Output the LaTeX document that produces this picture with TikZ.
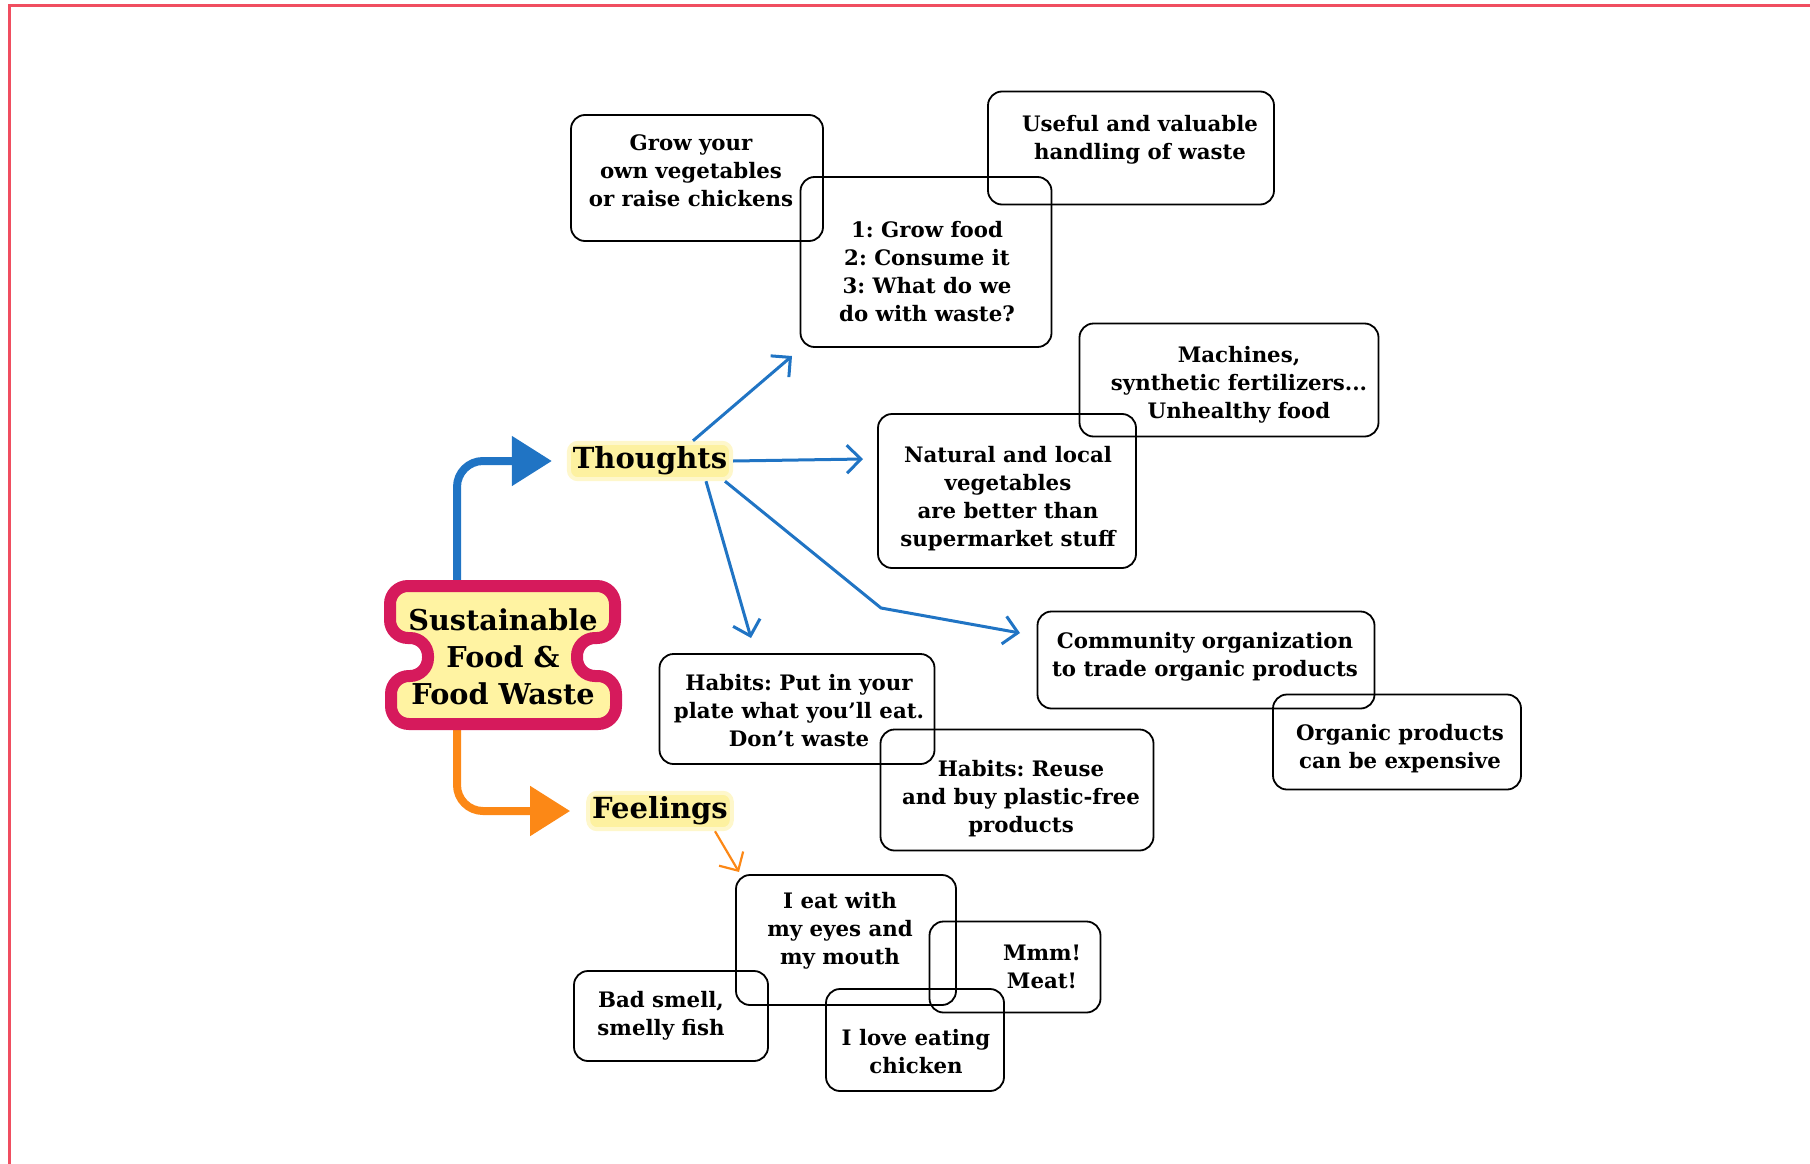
\documentclass[tikz,border=0pt]{standalone}
\usepackage{fontspec}
\setmainfont{DejaVu Serif}
\usetikzlibrary{arrows.meta,backgrounds}
\frenchspacing

\definecolor{framered}{RGB}{240,78,96}
\definecolor{mapblue}{RGB}{32,116,196}
\definecolor{maporange}{RGB}{252,136,22}
\definecolor{cloudpink}{RGB}{214,26,92}
\definecolor{cloudyellow}{RGB}{255,243,162}
\definecolor{glowyellow}{RGB}{253,241,160}

\tikzset{
  note/.style={draw, rounded corners=14pt, line width=1.8pt, inner sep=0pt},
  notetext/.style={align=center, font=\fontsize{21.3}{28}\selectfont\bfseries, inner sep=0pt},
  branch/.style={font=\fontsize{29}{34}\selectfont\bfseries, fill=glowyellow,
    draw=glowyellow!55, line width=4pt, rounded corners=9pt, inner sep=4pt},
  thinarrow/.style={mapblue, line width=3pt, -{Straight Barb[length=14pt,width=28pt]}},
  bigarrow/.style={line width=8pt, -{Triangle[length=40pt,width=48pt]}},
}

\begin{document}
\begin{tikzpicture}[x=1pt, y=-1pt]
  \useasboundingbox (0,0) rectangle (1810,1164);
  % frame
  \draw[framered, line width=3pt] (9,6) rectangle (1830,1165);

  % cloud round the title
  \draw[cloudpink, fill=cloudyellow, line width=12pt, rounded corners=18pt]
    (390,586) -- (615,586) -- (615,638) -- (577,638) -- (577,676) -- (616,676)
    -- (616,724) -- (391,724) -- (391,676) -- (428,676) -- (428,638) -- (390,638) -- cycle;
  \node[font=\fontsize{28.7}{37}\selectfont\bfseries, align=center] (core) at (503,657) {Sustainable\\Food \&\\Food Waste};
  \node[branch] (thoughts) at (650,461) {Thoughts};
  \node[branch] (feelings) at (660,811) {Feelings};

  % big arrows to the two branches
  \begin{scope}[on background layer]
    \draw[bigarrow, mapblue, shorten >=15pt] ([xshift=-46pt]core.north) [rounded corners=26pt] |- (thoughts.west);
    \draw[bigarrow, maporange, shorten >=16pt] ([xshift=-46pt]core.south) [rounded corners=26pt] |- (feelings.west);
  \end{scope}

  % thoughts
  \node[note, minimum width=252pt, minimum height=126pt] (grow) at (697,178) {};
  \node[notetext] (growtext) at ([shift={(-6,-7)}]grow) {Grow your\\own vegetables\\or raise chickens};
  \node[note, minimum width=251pt, minimum height=170pt] (cycle) at (926,262) {};
  \node[notetext] (cycletext) at ([shift={(1,10)}]cycle) {1: Grow food\\2: Consume it\\3: What do we\\do with waste?};
  \node[note, minimum width=286pt, minimum height=113pt] (useful) at (1131,148) {};
  \node[notetext] (usefultext) at ([shift={(9,-8)}]useful) {Useful and valuable\\handling of waste};
  \node[note, minimum width=299pt, minimum height=113pt] (machines) at (1229,380) {};
  \node[notetext] (machinestext) at ([shift={(10,5)}]machines) {Machines,\\synthetic fertilizers...\\Unhealthy food};
  \node[note, minimum width=258pt, minimum height=154pt] (natural) at (1007,491) {};
  \node[notetext] (naturaltext) at ([shift={(1,8)}]natural) {Natural and local\\vegetables\\are better than\\supermarket stuff};
  \node[note, minimum width=337pt, minimum height=97pt] (trade) at (1206,660) {};
  \node[notetext] (tradetext) at ([shift={(-1,-3)}]trade) {Community organization\\to trade organic products};
  \node[note, minimum width=248pt, minimum height=95pt] (organic) at (1397,742) {};
  \node[notetext] (organictext) at ([shift={(3,7)}]organic) {Organic products\\can be expensive};
  \node[note, minimum width=275pt, minimum height=110pt] (plate) at (797,709) {};
  \node[notetext] (platetext) at ([shift={(2,2)}]plate) {Habits: Put in your\\plate what you’ll eat.\\Don’t waste};
  \node[note, minimum width=273pt, minimum height=121pt] (reuse) at (1017,790) {};
  \node[notetext] (reusetext) at ([shift={(4,9)}]reuse) {Habits: Reuse\\and buy plastic-free\\products};

  % feelings
  \node[note, minimum width=220pt, minimum height=130pt] (eyes) at (846,940) {};
  \node[notetext] (eyestext) at ([shift={(-6,-9)}]eyes) {I eat with\\my eyes and\\my mouth};
  \node[note, minimum width=171pt, minimum height=91pt] (meat) at (1015,967) {};
  \node[notetext] (meattext) at ([shift={(27,0)}]meat) {Mmm!\\Meat!};
  \node[note, minimum width=194pt, minimum height=90pt] (smell) at (671,1016) {};
  \node[notetext] (smelltext) at ([shift={(-10,0)}]smell) {Bad smell,\\smelly fish};
  \node[note, minimum width=178pt, minimum height=102pt] (chicken) at (915,1040) {};
  \node[notetext] (chickentext) at ([shift={(1,12)}]chicken) {I love eating\\chicken};

  % thin arrows
  \coordinate (cycletip) at (792,356);
  \coordinate (naturaltip) at (863,459);
  \coordinate (platetip) at (751,638);
  \coordinate (tradebend) at (881,608);
  \coordinate (tradetip) at (1020,633);
  \coordinate (eyestip) at (739,872);
  \draw[thinarrow] ([xshift=43pt]thoughts.north) -- (cycletip);
  \draw[thinarrow] (thoughts.east) -- (naturaltip);
  \draw[thinarrow] ([xshift=56pt]thoughts.south) -- (platetip);
  \draw[thinarrow] ([xshift=75pt]thoughts.south) -- (tradebend) -- (tradetip);
  \draw[thinarrow, maporange, line width=2.2pt] ([xshift=55pt]feelings.south) -- (eyestip);
\end{tikzpicture}
\end{document}
